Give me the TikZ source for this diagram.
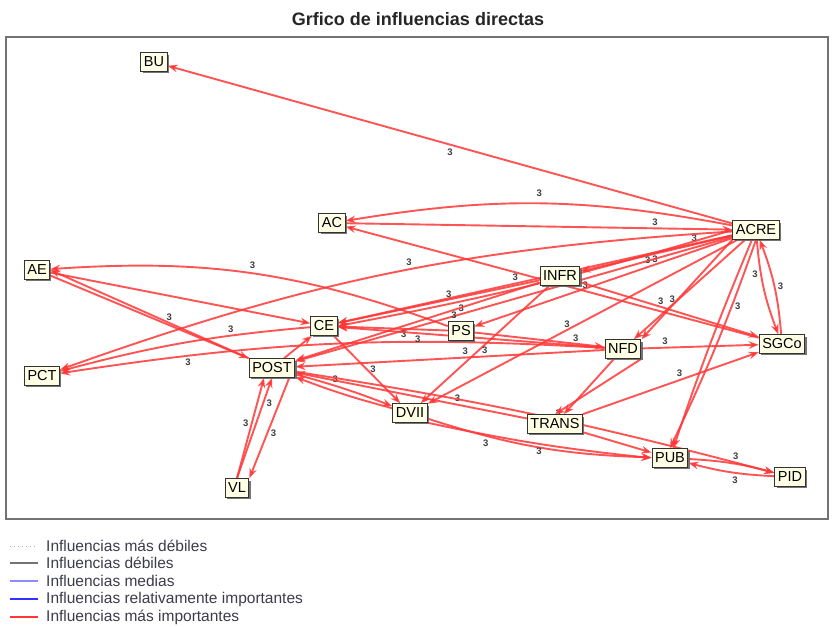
\documentclass[tikz,border=0pt]{standalone}
\usepackage{fontspec}
\setmainfont{Liberation Sans}
\usetikzlibrary{arrows.meta,shadows}
\definecolor{edgered}{RGB}{255,55,55}
\definecolor{nodefill}{RGB}{255,255,230}
\definecolor{legtext}{RGB}{60,60,75}
\pgfdeclarelayer{back}
\pgfdeclarelayer{bg}
\pgfsetlayers{back,bg,main}
\tikzset{
  var/.style={draw=black!80, line width=1.1pt, fill=nodefill,
    font=\fontsize{14.5}{15}\selectfont, inner xsep=3pt, inner ysep=1pt,
    minimum height=18.5pt,
    drop shadow={shadow xshift=1.8pt, shadow yshift=-1.8pt, fill=black!60, opacity=0.9}},
  infl/.style={draw=edgered, line width=1.9pt, draw opacity=0.85,
    -{Stealth[length=10pt,width=7.5pt]}},
  lbl/.style={font=\fontsize{9.5}{10}\selectfont\bfseries, text=black!75, inner sep=0.5pt},
  frame/.style={draw=black!55, line width=1.6pt},
  legtxt/.style={anchor=west, font=\fontsize{15.5}{16}\selectfont, text=legtext, inner sep=0pt},
}
\begin{document}
\begin{tikzpicture}[x=1pt,y=-1pt]
\useasboundingbox (0,0) rectangle (837,626);
\begin{pgfonlayer}{back}
\fill[white] (0,0) rectangle (837,626);
\end{pgfonlayer}
\node[font=\fontsize{18}{20}\selectfont\bfseries, text=black!85] (title) at (418,19) {Grfico de influencias directas};
\draw[frame] (6,37) rectangle (828,519);

\node[var] (BU) at (154,62) {BU};
\node[var] (AC) at (332,223) {AC};
\node[var] (ACRE) at (756,230) {ACRE};
\node[var] (AE) at (37,270) {AE};
\node[var] (INFR) at (560,276) {INFR};
\node[var] (CE) at (324,326) {CE};
\node[var] (PS) at (461,331) {PS};
\node[var] (SGCo) at (782,344) {SGCo};
\node[var] (NFD) at (623,349) {NFD};
\node[var] (PCT) at (42,376) {PCT};
\node[var] (POST) at (272,368) {POST};
\node[var] (DVII) at (410,413) {DVII};
\node[var] (TRANS) at (555,424) {TRANS};
\node[var] (PUB) at (670,458) {PUB};
\node[var] (PID) at (790,477) {PID};
\node[var] (VL) at (237,488) {VL};

\begin{pgfonlayer}{bg}
% from ACRE
\draw[infl] (ACRE) -- node[lbl,pos=.5,below=3pt] {3} (BU);
\draw[infl] (ACRE) to[bend right=10] node[lbl,pos=.5,above=5pt] {3} (AC);
\draw[infl] (AC) -- node[lbl,pos=.8,above=1pt] {3} (ACRE);
\draw[infl] (SGCo) -- node[lbl,pos=.42,above=1pt] {3} (AC);
\draw[infl] (ACRE) -- node[lbl,pos=.25,above=1pt] {3} (INFR);
\draw[infl] (ACRE) -- node[lbl,pos=.55,above=1pt] {3} (CE);
\draw[infl] (ACRE.west) to[bend left=3] node[lbl,pos=.2,below=1pt] {3} (CE.east);
\draw[infl] (ACRE) -- node[lbl,pos=.3,above=1pt] {3} (PS);
\draw[infl] (ACRE) -- node[lbl,pos=.62,above=1pt] {3} (POST);
\draw[infl] (ACRE) to[bend right=8] node[lbl,pos=.47,above=2pt] {3} (PCT);
\draw[infl] (ACRE) -- node[lbl,pos=.6,left=2pt] {3} (NFD);
\draw[infl] (ACRE.south west) -- (NFD.north east);
\draw[infl] (ACRE) -- node[lbl,pos=.55,above=1pt] {3} (DVII);
\draw[infl] (ACRE.south) to[bend left=3] node[lbl,pos=.3,right=2pt] {3} (PUB.north);
\draw[infl] (ACRE) to[bend right=2] (PUB);
\draw[infl] (ACRE) to[bend right=8] node[lbl,pos=.35,left=2pt] {3} (SGCo);
\draw[infl] (SGCo) to[bend right=8] node[lbl,pos=.5,right=2pt] {3} (ACRE);
% from INFR
\draw[infl] (INFR) -- node[lbl,pos=.45,above=1pt] {3} (CE);
\draw[infl] (INFR) -- node[lbl,pos=.45,above=1pt] {3} (SGCo);
\draw[infl] (INFR) -- node[lbl,pos=.35,below=1pt] {3} (POST);
\draw[infl] (INFR) -- node[lbl,pos=.55,right=2pt] {3} (DVII);
% from PS
\draw[infl] (PS) to[bend right=12] node[lbl,pos=.5,above=3pt] {3} (AE);
\draw[infl] (PS) -- node[lbl,pos=.78,above=1pt] {3} (NFD);
\draw[infl] (PS) -- node[lbl,pos=.4,below=1pt] {3} (CE);
% AE, PCT
\draw[infl] (AE) -- (CE);
\draw[infl] (POST.north west) -- node[lbl,pos=.4,above=1pt] {3} (AE.east);
\draw[infl] (AE) -- (POST);
\draw[infl] (CE) to[bend right=5] node[lbl,pos=.3,above=2pt] {3} (PCT);
\draw[infl] (NFD) to[bend right=6] node[lbl,pos=.78,below=2pt] {3} (PCT);
% CE, POST
\draw[infl] (POST) -- (CE);
\draw[infl] (CE) -- node[lbl,pos=.5,right=2pt] {3} (DVII);
\draw[infl] (NFD) -- node[lbl,pos=.45,above=1pt] {3} (POST);
\draw[infl] (NFD) -- node[lbl,pos=.7,below=1pt] {3} (CE);
\draw[infl] (DVII) to[bend left=3] (POST);
\draw[infl] (POST) to[bend left=3] node[lbl,pos=.4,above=2pt] {3} (DVII);
\draw[infl] (TRANS) -- node[lbl,pos=.3,above=2pt] {3} (POST);
\draw[infl] (POST) to[bend left=3] node[lbl,pos=.55,above=2pt] {3} (PID);
\draw[infl] (VL.north) -- node[lbl,pos=.55,left=2pt] {3} ([xshift=-8pt]POST.south);
\draw[infl] (VL.north) -- node[lbl,pos=.75,right=2pt] {3} ([xshift=0pt]POST.south);
\draw[infl] ([xshift=-6pt]POST.south east) -- node[lbl,pos=.55,right=2pt] {3} (VL.north east);
% lower right
\draw[infl] (DVII) to[bend right=8] node[lbl,pos=.25,below=3pt] {3} (PUB);
\draw[infl] (DVII.south east) to[bend right=3] node[lbl,pos=.5,below=3pt] {3} (PUB.west);
\draw[infl] (TRANS) -- (PUB);
\draw[infl] (TRANS) -- node[lbl,pos=.55,above=2pt] {3} (SGCo);
\draw[infl] (NFD) -- (TRANS);
\draw[infl] (NFD.south east) -- (TRANS.north);
\draw[infl] (NFD) -- node[lbl,pos=.2,above=2pt] {3} (SGCo);
\draw[infl] (PUB) to[bend left=6] node[lbl,pos=.55,above=3pt] {3} (PID);
\draw[infl] (PID) to[bend left=6] node[lbl,pos=.45,below=3pt] {3} (PUB);
\end{pgfonlayer}

% legend
\draw[black!30, line width=1pt, dash pattern=on 1pt off 3pt] (10,546) -- (38,546);
\node[legtxt] (l1) at (46,546) {Influencias más débiles};
\draw[black!55, line width=1.2pt] (10,563) -- (38,563);
\node[legtxt] (l2) at (46,563) {Influencias débiles};
\draw[blue!45, line width=1.2pt] (10,581) -- (38,581);
\node[legtxt] (l3) at (46,581) {Influencias medias};
\draw[blue!80, line width=2pt] (10,599) -- (38,599);
\node[legtxt] (l4) at (46,599) {Influencias relativamente importantes};
\draw[edgered, line width=2.2pt] (10,617) -- (38,617);
\node[legtxt] (l5) at (46,617) {Influencias más importantes};
\end{tikzpicture}
\end{document}
